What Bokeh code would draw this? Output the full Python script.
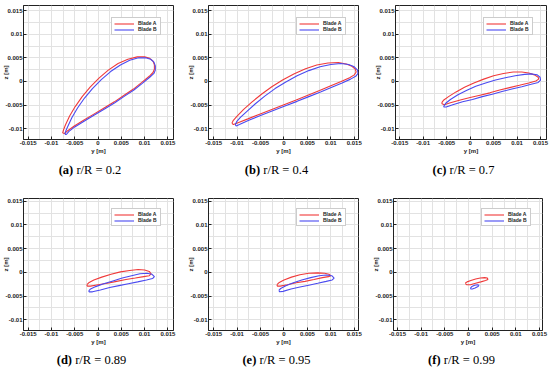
from bokeh.plotting import figure
from bokeh.layouts import row, column
from bokeh.models import FixedTicker, Range1d
from bokeh.core.properties import value
from bokeh.embed import file_html
from bokeh.resources import INLINE

# ---------------- data ----------------
x_ticks = [-0.015, -0.01, -0.005, 0.0, 0.005, 0.01, 0.015]
x_tick_labels = ["-0.015", "-0.01", "-0.005", "0", "0.005", "0.01", "0.015"]
y_ticks = [-0.01, -0.005, 0.0, 0.005, 0.01, 0.015]
y_tick_labels = ["-0.01", "-0.005", "0", "0.005", "0.01", "0.015"]
panel_tags = ["(a)", "(b)", "(c)", "(d)", "(e)", "(f)"]
panel_captions = ["r/R = 0.2", "r/R = 0.4", "r/R = 0.7", "r/R = 0.89", "r/R = 0.95", "r/R = 0.99"]
series_names = ["Blade A", "Blade B"]
x_label = "y [m]"
y_label = "z [m]"

# section contours, (y, z) in millimetres
a_blade_A = [(-7.6, -10.9), (-7.4, -10.2), (-7.0, -9.2), (-6.1, -7.3), (-4.9, -5.3), (-3.4, -3.2), (-1.7, -1.2),
             (0.2, 0.7), (2.2, 2.4), (4.3, 3.8), (6.4, 4.7), (8.4, 5.2), (10.0, 5.2), (11.1, 4.9), (11.8, 4.3),
             (12.1, 3.5), (12.1, 2.6), (11.8, 1.9), (11.0, 1.1), (9.4, -0.2), (7.6, -1.6), (5.6, -2.9), (3.5, -4.3),
             (1.3, -5.6), (-0.9, -6.9), (-3.1, -8.2), (-5.1, -9.4), (-6.5, -10.4), (-7.2, -11.0), (-7.6, -10.9)]
a_blade_B = [(-7.1, -11.2), (-6.9, -10.4), (-6.5, -9.5), (-5.6, -7.6), (-4.4, -5.6), (-2.9, -3.5), (-1.2, -1.5),
             (0.7, 0.4), (2.7, 2.1), (4.8, 3.5), (6.8, 4.5), (8.7, 5.0), (10.2, 5.0), (11.3, 4.7), (12.0, 4.1),
             (12.3, 3.3), (12.3, 2.4), (12.0, 1.7), (11.1, 0.9), (9.5, -0.4), (7.7, -1.8), (5.7, -3.1), (3.6, -4.5),
             (1.4, -5.8), (-0.8, -7.1), (-3.0, -8.4), (-5.0, -9.6), (-6.3, -10.6), (-6.8, -11.2), (-7.1, -11.2)]
b_blade_A = [(-11.1, -8.8), (-10.8, -8.2), (-10.0, -7.3), (-8.6, -5.9), (-6.8, -4.3), (-4.8, -2.7), (-2.6, -1.1),
             (-0.3, 0.3), (2.1, 1.6), (4.6, 2.7), (7.0, 3.5), (9.4, 3.9), (11.6, 4.0), (13.3, 3.7), (14.5, 3.2),
             (15.2, 2.6), (15.4, 2.0), (15.0, 1.4), (14.0, 0.8), (12.2, 0.0), (10.0, -0.9), (7.6, -1.9), (5.1, -2.9),
             (2.6, -3.9), (0.0, -4.9), (-2.6, -5.9), (-5.2, -6.9), (-7.7, -7.9), (-9.8, -8.7), (-10.8, -9.1),
             (-11.1, -8.8)]
b_blade_B = [(-10.4, -9.2), (-10.1, -8.5), (-9.3, -7.6), (-7.9, -6.3), (-6.1, -4.7), (-4.1, -3.1), (-1.9, -1.5),
             (0.4, -0.1), (2.8, 1.2), (5.3, 2.3), (7.7, 3.1), (10.0, 3.6), (12.1, 3.8), (13.8, 3.6), (15.0, 3.1),
             (15.7, 2.4), (15.8, 1.7), (15.3, 1.1), (14.2, 0.5), (12.4, -0.3), (10.2, -1.2), (7.8, -2.2), (5.3, -3.2),
             (2.8, -4.2), (0.2, -5.2), (-2.4, -6.2), (-5.0, -7.2), (-7.5, -8.2), (-9.5, -9.1), (-10.2, -9.4),
             (-10.4, -9.2)]
c_blade_A = [(-6.0, -4.4), (-5.6, -3.9), (-4.6, -3.2), (-3.0, -2.2), (-1.2, -1.2), (0.8, -0.3), (2.9, 0.5),
             (5.0, 1.2), (7.1, 1.7), (9.2, 2.0), (11.0, 2.0), (12.5, 1.8), (13.7, 1.4), (14.5, 0.9), (14.6, 0.5),
             (14.0, 0.1), (12.5, -0.3), (10.5, -0.8), (8.4, -1.3), (6.3, -1.8), (4.2, -2.4), (2.1, -2.9),
             (0.0, -3.4), (-2.1, -3.9), (-4.2, -4.5), (-5.5, -4.9), (-6.0, -4.7), (-6.0, -4.4)]
c_blade_B = [(-5.6, -5.2), (-5.2, -4.6), (-4.2, -3.8), (-2.6, -2.8), (-0.8, -1.9), (1.2, -1.0), (3.3, -0.3),
             (5.4, 0.3), (7.5, 0.8), (9.6, 1.2), (11.6, 1.5), (13.2, 1.6), (14.3, 1.4), (14.9, 0.9), (15.0, 0.3),
             (14.5, -0.2), (13.0, -0.6), (11.0, -1.1), (8.9, -1.6), (6.8, -2.1), (4.7, -2.7), (2.6, -3.2),
             (0.5, -3.8), (-1.6, -4.3), (-3.7, -4.9), (-5.1, -5.4), (-5.6, -5.4), (-5.6, -5.2)]
d_blade_A = [(-2.4, -2.6), (-2.0, -2.2), (-0.9, -1.6), (0.8, -1.0), (2.8, -0.4), (4.8, 0.1), (6.8, 0.4),
             (8.6, 0.6), (10.0, 0.5), (11.0, 0.2), (11.4, -0.3), (11.0, -0.7), (9.8, -0.9), (8.0, -1.2),
             (6.0, -1.5), (4.0, -1.9), (2.0, -2.3), (0.0, -2.6), (-1.6, -2.9), (-2.3, -2.9), (-2.4, -2.6)]
d_blade_B = [(-2.0, -3.9), (-1.6, -3.5), (-0.5, -3.0), (1.2, -2.4), (3.2, -1.8), (5.2, -1.2), (7.2, -0.7),
             (9.0, -0.3), (10.5, -0.2), (11.6, -0.4), (12.1, -0.9), (11.7, -1.3), (10.4, -1.6), (8.5, -2.0),
             (6.5, -2.4), (4.5, -2.8), (2.5, -3.2), (0.5, -3.7), (-1.2, -4.1), (-1.9, -4.1), (-2.0, -3.9)]
e_blade_A = [(-1.5, -2.6), (-1.1, -2.2), (0.0, -1.6), (1.6, -1.0), (3.4, -0.5), (5.3, -0.2), (7.2, -0.1),
             (8.7, -0.2), (9.6, -0.4), (10.0, -0.7), (9.5, -0.9), (8.2, -1.1), (6.4, -1.5), (4.5, -1.9),
             (2.6, -2.2), (0.7, -2.6), (-0.8, -2.9), (-1.4, -2.9), (-1.5, -2.6)]
e_blade_B = [(-1.1, -3.8), (-0.7, -3.4), (0.4, -2.8), (2.0, -2.2), (3.8, -1.6), (5.7, -1.1), (7.5, -0.7),
             (9.0, -0.55), (10.2, -0.7), (10.7, -1.2), (10.3, -1.6), (9.0, -1.9), (7.2, -2.3), (5.3, -2.7),
             (3.4, -3.1), (1.5, -3.5), (-0.2, -4.0), (-0.9, -4.1), (-1.1, -3.8)]
f_blade_A = [(-0.7, -2.3), (-0.3, -2.0), (0.5, -1.7), (1.5, -1.4), (2.5, -1.2), (3.4, -1.1), (4.0, -1.2),
             (4.1, -1.5), (3.6, -1.7), (2.6, -2.0), (1.5, -2.3), (0.4, -2.6), (-0.4, -2.6), (-0.7, -2.3)]
f_blade_B = [(0.4, -3.3), (0.7, -3.0), (1.3, -2.7), (1.9, -2.6), (2.2, -2.7), (2.0, -3.0), (1.4, -3.3),
             (0.8, -3.5), (0.5, -3.5), (0.4, -3.3)]

panel_data = [(a_blade_A, a_blade_B), (b_blade_A, b_blade_B), (c_blade_A, c_blade_B),
              (d_blade_A, d_blade_B), (e_blade_A, e_blade_B), (f_blade_A, f_blade_B)]

# ---------------- layout / style ----------------
colors = ["#f03a3a", "#4a4af0"]
BORDER_LEFT = 22
fig_width = [[185, 187, 177], [185, 185, 179]]
border_right = [[12, 14, 3], [12, 12, 7]]
panel_xrange = [(-0.0160, 0.0162), (-0.0161, 0.0159), (-0.0159, 0.01627),
                (-0.0160, 0.0162), (-0.0161, 0.0159), (-0.01584, 0.01563)]
row_height = [157, 162]
row_border_top = [5, 12]
row_border_bottom = [18, 18]
row_yrange = [(-0.01226, 0.01606), (-0.01225, 0.01557)]
cap_height = [29, 20]
cap_yc = [17, 9]
legend_loc = (88, 104)
caption_cx = [89.5, 91, 91, 91, 91, 91]

REG = {'(': .333, ')': .333, 'r': .333, '/': .278, 'R': .667, ' ': .25, '=': .564, '.': .25}
BOLD = {'(': .333, ')': .333, 'a': .5, 'b': .556, 'c': .444, 'd': .556, 'e': .444, 'f': .333}
CAP_SIZE = 12.5
SERIF = "Liberation Serif"
FONT = "Liberation Sans"
INK = "#222222"


def text_w(s, table):
    return sum(table.get(ch, 0.5) for ch in s) * CAP_SIZE


grid_ticks = [i * 0.0025 for i in range(-8, 9)]

panels = []
captions = []
for i in range(6):
    r, c = divmod(i, 3)
    w = fig_width[r][c]
    p = figure(width=w, height=row_height[r],
               min_border_left=BORDER_LEFT, min_border_right=border_right[r][c],
               min_border_top=row_border_top[r], min_border_bottom=row_border_bottom[r],
               x_range=Range1d(*panel_xrange[i]), y_range=Range1d(*row_yrange[r]),
               output_backend="svg", toolbar_location=None)
    p.background_fill_color = "white"
    p.border_fill_color = "white"
    p.outline_line_color = INK
    p.outline_line_width = 1

    for g in (p.xgrid, p.ygrid):
        g.ticker = FixedTicker(ticks=grid_ticks)
        g.grid_line_color = "#e2e2e2"
        g.grid_line_width = 1

    p.xaxis.ticker = FixedTicker(ticks=x_ticks)
    p.yaxis.ticker = FixedTicker(ticks=y_ticks)
    p.xaxis.major_label_overrides = dict(zip(x_ticks, x_tick_labels))
    p.yaxis.major_label_overrides = dict(zip(y_ticks, y_tick_labels))
    p.xaxis.axis_label = x_label
    p.yaxis.axis_label = y_label
    for ax in (p.xaxis, p.yaxis):
        ax.major_tick_in = 3
        ax.major_tick_out = 0
        ax.minor_tick_line_color = None
        ax.axis_line_color = INK
        ax.major_tick_line_color = INK
        ax.major_label_text_font = FONT
        ax.major_label_text_font_size = "6px"
        ax.major_label_text_font_style = "bold"
        ax.major_label_text_color = INK
        ax.major_label_standoff = 1
        ax.axis_label_text_font = FONT
        ax.axis_label_text_font_size = "6px"
        ax.axis_label_text_font_style = "bold"
        ax.axis_label_text_color = INK
    p.xaxis.axis_label_standoff = 0
    p.yaxis.axis_label_standoff = -7

    blades = panel_data[i]
    for k in range(2):
        ys = [pt[0] / 1000.0 for pt in blades[k]]
        zs = [pt[1] / 1000.0 for pt in blades[k]]
        p.line(ys, zs, line_color=colors[k], line_width=1.1, legend_label=series_names[k])

    lg = p.legend[0]
    lg.location = legend_loc
    lg.margin = 0
    lg.padding = 2
    lg.spacing = 0
    lg.glyph_width = 20
    lg.glyph_height = 5
    lg.label_height = 5
    lg.label_standoff = 4
    lg.label_text_font = FONT
    lg.label_text_font_size = "5px"
    lg.label_text_font_style = "bold"
    lg.label_text_color = INK
    lg.border_line_color = "#999999"
    lg.border_line_width = 1
    lg.background_fill_color = "white"
    lg.background_fill_alpha = 1.0
    panels.append(p)

    # caption strip: bold tag + regular text
    h = cap_height[r]
    cp = figure(width=w, height=h, x_range=Range1d(0, w), y_range=Range1d(0, h),
                x_axis_type=None, y_axis_type=None, min_border=0,
                output_backend="svg", toolbar_location=None)
    cp.outline_line_color = None
    cp.background_fill_color = "white"
    cp.border_fill_color = "white"
    cp.grid.visible = False
    wb = text_w(panel_tags[i], BOLD)
    wn = text_w(panel_captions[i], REG)
    gap = 0.25 * CAP_SIZE
    x0 = caption_cx[i] - (wb + gap + wn) / 2.0
    cp.text(x=[x0], y=[cap_yc[r]], text=[panel_tags[i]], text_align="left", text_baseline="middle",
            text_font=value(SERIF), text_font_size=f"{CAP_SIZE}px", text_font_style="bold",
            text_color="black")
    cp.text(x=[x0 + wb + gap], y=[cap_yc[r]], text=[panel_captions[i]], text_align="left",
            text_baseline="middle", text_font=value(SERIF), text_font_size=f"{CAP_SIZE}px",
            text_color="black")
    captions.append(cp)

layout = column(row(*panels[0:3]), row(*captions[0:3]),
                row(*panels[3:6]), row(*captions[3:6]))

open("out.html", "w").write(file_html(layout, INLINE))
